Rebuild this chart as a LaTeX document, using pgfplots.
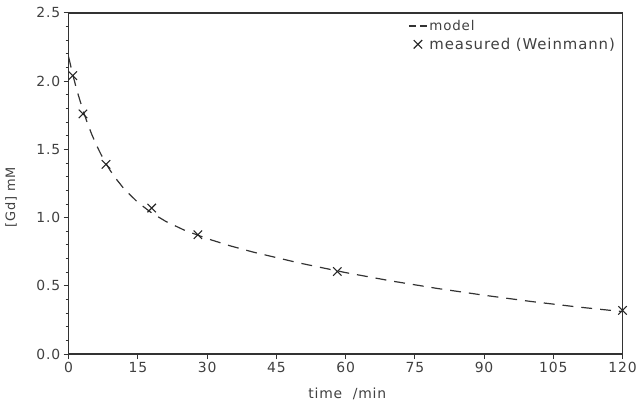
\documentclass[border=0pt]{standalone}
\usepackage{pgfplots}
\pgfplotsset{compat=1.18}
\usepackage{fontspec}
\setmainfont{DejaVu Sans}[LetterSpace=6]
\pgfplotsset{
  modelleg/.style={legend image code/.code={\draw[##1, dash pattern=on 7pt off 4pt] (0pt,0pt) -- (18pt,0pt);}},
  measleg/.style={legend image code/.code={\draw[##1] plot coordinates {(9pt,0pt)};}},
}
\begin{document}
\begin{tikzpicture}
\begin{axis}[
  scale only axis, width=557pt, height=343pt,
  axis lines=box, clip=false,
  xmin=0, xmax=120, ymin=0, ymax=2.5,
  xtick={0,15,...,120}, ytick={0,0.5,1,1.5,2,2.5},
  minor y tick num=4,
  xtick pos=bottom, ytick pos=left, tick align=outside,
  major tick length=5pt, minor tick length=3pt,
  every tick/.style={black!80, line width=0.9pt},
  axis line style={black!80, line width=1.2pt},
  /pgf/number format/assume math mode=true,
  yticklabel style={/pgf/number format/fixed, /pgf/number format/fixed zerofill, /pgf/number format/precision=1},
  ticklabel style={font=\fontsize{14}{16}\selectfont, text=black!75},
  xlabel={time\ \ /min},
  xlabel style={font=\fontsize{14}{16}\selectfont, text=black!75, at={(axis description cs:0.503,0)}, anchor=center, yshift=-40pt},
  ylabel={[Gd] mM},
  ylabel style={font=\fontsize{13}{15}\selectfont, text=black!75, at={(axis description cs:-0.104,0.46)}, anchor=center},
  legend style={draw=none, fill=none, at={(0.99,0.985)}, anchor=north east, inner sep=0pt, row sep=2pt, text=black!75},
  legend cell align=left,
]
\addplot[modelleg, black!80, line width=1.2pt, dash pattern=on 11pt off 8pt] coordinates {
(0,2.178) (0.5,2.105) (1,2.035) (1.5,1.970) (2,1.909) (3,1.798) (4,1.699) (5,1.611) (6,1.533) (7,1.464) (8,1.402) (9,1.346) (10,1.296) (12,1.211) (15,1.111) (18,1.034) (21,0.973) (25,0.909) (30,0.846) (35,0.793) (40,0.747) (50,0.667) (60,0.597) (70,0.535) (80,0.480) (90,0.431) (100,0.386) (110,0.346) (120,0.311)
};
\addlegendentry{\fontsize{13.5}{15}\selectfont model}
\addplot[measleg, only marks, mark=x, mark size=6pt, black!85, line width=1.1pt] coordinates {
(0.9,2.04) (3.1,1.76) (8.1,1.39) (18,1.07) (28,0.875) (58.2,0.605) (120,0.32)
};
\addlegendentry{\fontsize{15}{17}\selectfont measured\ (Weinmann)}
\fill[black!80] ([xshift=-0.8pt]rel axis cs:1,0) rectangle ([xshift=0.8pt]rel axis cs:1,1);
\end{axis}
\path (current axis.south west) ++(-69pt,-54pt) rectangle ++(640pt,410pt);
\end{tikzpicture}
\end{document}
